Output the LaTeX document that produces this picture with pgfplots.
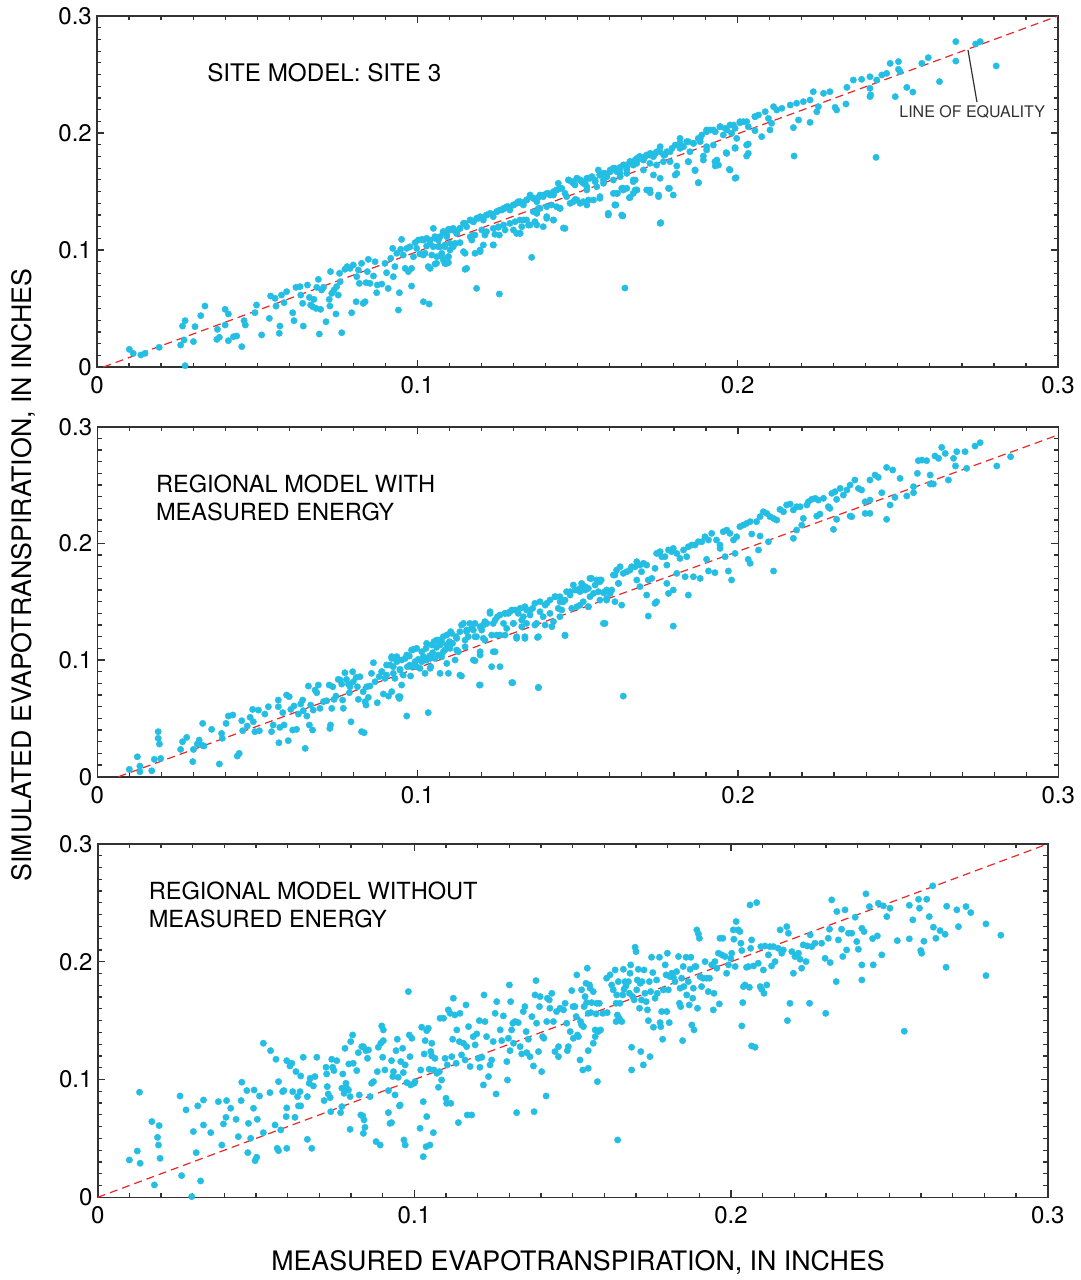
\documentclass[border=0pt]{standalone}
\usepackage{fontspec}
\setmainfont{TeX Gyre Heros}
\usepackage{pgfplots}
\pgfplotsset{compat=1.18}
\definecolor{dotcyan}{RGB}{36,190,228}
\definecolor{eqred}{RGB}{232,40,40}
\definecolor{axisgray}{RGB}{50,50,50}
\pgfplotsset{
  panel/.style={
    scale only axis,
    xmin=0,xmax=0.3,ymin=0,ymax=0.3,
    xtick={0,0.1,0.2,0.3}, xticklabels={0,0.1,0.2,0.3},
    ytick={0,0.1,0.2,0.3}, yticklabels={0,0.1,0.2,0.3},
    minor x tick num=9, minor y tick num=9,
    tick align=inside,
    major tick length=3.6pt, minor tick length=2.2pt,
    axis line style={line width=0.8pt, draw=axisgray},
    every tick/.style={line width=0.6pt, draw=axisgray},
    tick label style={font=\fontsize{12}{12}\selectfont, inner sep=0pt},
    xticklabel shift=4.6pt,
    yticklabel shift=2.4pt,
    clip=false,
  },
  dots/.style={only marks, mark=*, mark size=1.6pt, color=dotcyan, mark options={line width=0.2pt}},
  eq/.style={eqred, dashed, line width=0.6pt, dash pattern=on 4pt off 2.5pt},
}
\tikzset{lbl/.style={anchor=base west, inner sep=0pt, font=\fontsize{11.8}{11.8}\selectfont}}
\begin{document}
\begin{tikzpicture}
\path[use as bounding box] (0,0) rectangle (540.5pt,-640pt);
% ---------------- Panel 1 ----------------
\begin{axis}[panel, width=480.5pt, height=175.5pt, at={(48.5pt,-183.5pt)}, anchor=south west]
\addplot[eq] coordinates {(0.002,0) (0.3,0.3)};
\addplot[dots] coordinates {
(0.0101,0.0151)(0.0113,0.0117)(0.0137,0.0103)(0.0150,0.0117)(0.0194,0.0168)(0.0261,0.0188)(0.0267,0.035)(0.0275,0.0396)(0.0272,0.0231)(0.0301,0.0217)
(0.0306,0.0345)(0.0324,0.0439)(0.0337,0.0521)(0.0374,0.0236)(0.0376,0.0322)(0.0382,0.0254)(0.0400,0.0493)(0.0410,0.0453)(0.04,0.0359)(0.041,0.0225)
(0.0426,0.0259)(0.0436,0.0265)(0.0452,0.0174)(0.0459,0.0396)(0.0463,0.0359)(0.0275,0.0011)(0.0498,0.053)(0.0493,0.0464)(0.0514,0.0274)(0.0538,0.0416)
(0.0542,0.0607)(0.0556,0.0587)(0.0559,0.0521)(0.0571,0.035)(0.0569,0.0288)(0.0576,0.0615)(0.0584,0.055)(0.0592,0.0644)(0.0611,0.0464)(0.0615,0.0396)
(0.0621,0.0681)(0.0634,0.0687)(0.0636,0.0615)(0.0642,0.0544)(0.0644,0.035)(0.0657,0.0701)(0.0663,0.0595)(0.0667,0.053)(0.0673,0.0516)(0.0677,0.0578)
(0.0684,0.0501)(0.0686,0.0681)(0.0691,0.0749)(0.0694,0.0282)(0.0698,0.0493)(0.0701,0.0658)(0.0707,0.0681)(0.0715,0.0387)(0.0725,0.0578)(0.0729,0.0815)
(0.0727,0.0521)(0.0733,0.063)(0.074,0.0658)(0.0746,0.0453)(0.0748,0.0687)(0.0753,0.0615)(0.0759,0.0729)(0.0764,0.0293)(0.0757,0.0801)(0.0774,0.0835)
(0.0781,0.0858)(0.079,0.0843)(0.0795,0.0464)(0.08,0.0872)(0.0809,0.0558)(0.0811,0.0772)(0.0816,0.0829)(0.0819,0.0715)(0.0826,0.0886)(0.0831,0.0544)
(0.0837,0.0558)(0.084,0.0721)(0.0844,0.0815)(0.0847,0.092)(0.0852,0.0715)(0.0863,0.0778)(0.0868,0.09)(0.0873,0.0635)(0.0875,0.0701)(0.0889,0.0709)
(0.0899,0.0886)(0.0904,0.0806)(0.0909,0.0672)(0.0917,0.0929)(0.0923,0.1014)(0.0925,0.0772)(0.093,0.0858)(0.0936,0.0972)(0.0941,0.0487)(0.0944,0.0635)
(0.0948,0.1006)(0.0951,0.1091)(0.0956,0.0957)(0.0962,0.0843)(0.0967,0.1014)(0.0972,0.0815)(0.0977,0.1028)(0.0982,0.0692)(0.0982,0.0843)(0.0988,0.0943)
(0.0993,0.1063)(0.0998,0.1014)(0.1003,0.1085)(0.1008,0.0966)(0.1014,0.1091)(0.1019,0.0558)(0.1024,0.0972)(0.1029,0.1034)(0.1037,0.0538)(0.1034,0.0858)
(0.104,0.1085)(0.1045,0.0957)(0.105,0.1185)(0.1055,0.11)(0.106,0.0886)(0.1066,0.1028)(0.1071,0.1114)(0.1076,0.0949)(0.1081,0.1148)(0.1086,0.1028)
(0.1092,0.0886)(0.1097,0.1177)(0.1102,0.1057)(0.1112,0.1171)(0.1123,0.1142)
(0.1081,0.1157)(0.1092,0.1128)(0.1102,0.1171)(0.1112,0.1185)(0.1123,0.1142)(0.1133,0.1185)(0.1144,0.1228)(0.1154,0.1199)(0.1165,0.1256)(0.1175,0.1242)
(0.1185,0.1271)(0.1196,0.1285)(0.1206,0.1256)(0.1216,0.1299)(0.1227,0.1313)(0.1237,0.1285)(0.1248,0.1328)(0.1258,0.1342)(0.1269,0.1356)(0.1279,0.137)
(0.1289,0.1342)(0.1300,0.1385)(0.1310,0.1399)(0.1321,0.1413)(0.1331,0.1385)(0.1341,0.1427)(0.1352,0.1456)(0.1362,0.1442)(0.1373,0.1413)(0.1383,0.147)
(0.1393,0.1456)(0.1404,0.1484)(0.1414,0.147)(0.1425,0.1499)(0.1435,0.1513)(0.1440,0.157)(0.1451,0.1527)(0.1461,0.1484)(0.1472,0.1598)(0.1482,0.1584)
(0.1492,0.1556)(0.1498,0.1613)(0.1508,0.1598)(0.1518,0.157)(0.1529,0.1541)(0.1534,0.1613)(0.1545,0.1627)(0.1555,0.1584)(0.1565,0.1684)(0.1570,0.1641)
(0.1581,0.1655)(0.1591,0.1627)(0.1602,0.1684)(0.1612,0.1698)(0.1622,0.167)(0.1633,0.1698)(0.1643,0.1726)(0.1654,0.1684)(0.1664,0.1755)(0.1674,0.1726)
(0.1685,0.1741)(0.1693,0.1798)
(0.1076,0.0972)(0.1081,0.0915)(0.1097,0.0943)(0.1087,0.0886)(0.1097,0.0892)(0.1112,0.1028)(0.1133,0.1063)(0.1149,0.0972)(0.1149,0.0835)(0.1170,0.1085)
(0.1175,0.1128)(0.1180,0.0972)(0.1196,0.0986)(0.1206,0.1043)(0.1211,0.1128)(0.1237,0.1043)(0.1242,0.1134)(0.1253,0.1199)(0.1256,0.1128)(0.1274,0.1171)
(0.1300,0.1171)(0.1310,0.1142)(0.1321,0.1142)(0.1326,0.1199)(0.1331,0.1256)(0.1347,0.1213)(0.1357,0.0937)(0.1367,0.1242)(0.1373,0.1313)(0.1383,0.1356)
(0.1393,0.1199)(0.1404,0.1285)(0.1425,0.1256)(0.1435,0.137)(0.1445,0.1356)(0.1456,0.1188)(0.1466,0.1456)(0.1477,0.1399)(0.1487,0.1413)(0.1498,0.1427)
(0.1508,0.1399)(0.1529,0.1385)(0.1550,0.1427)(0.1570,0.1442)(0.1596,0.1313)(0.1617,0.1385)(0.1622,0.1484)(0.1638,0.1527)(0.1641,0.1293)(0.1654,0.1527)
(0.1664,0.145)(0.1674,0.1484)(0.1680,0.1598)(0.1685,0.1513)(0.1185,0.0672)(0.1256,0.0624)(0.1648,0.0675)
(0.157,0.1641)(0.1581,0.1598)(0.1591,0.1627)(0.1602,0.167)(0.1612,0.1698)(0.1622,0.1684)(0.1633,0.1655)(0.1643,0.1726)(0.1654,0.1712)(0.1664,0.1755)
(0.1674,0.1741)(0.1685,0.1783)(0.1695,0.1798)(0.1706,0.1769)(0.1716,0.1812)(0.1727,0.1826)(0.1737,0.1798)(0.1748,0.184)(0.1758,0.1883)(0.1769,0.1812)
(0.1779,0.184)(0.1795,0.1869)(0.1805,0.1897)(0.182,0.1912)(0.1831,0.1883)(0.1846,0.1926)(0.1862,0.1912)(0.1877,0.1954)(0.1888,0.1983)(0.1903,0.2011)
(0.1914,0.2026)(0.193,0.2011)(0.1945,0.2054)(0.1961,0.204)(0.1976,0.2068)(0.1992,0.204)(0.2007,0.2088)(0.2018,0.2097)(0.2033,0.2054)(0.2054,0.214)
(0.2065,0.2154)(0.2086,0.2182)(0.2096,0.2125)(0.2112,0.2225)(0.2122,0.2197)(0.2138,0.2211)(0.2164,0.2239)(0.2184,0.2254)(0.2205,0.2268)(0.2226,0.2282)
(0.2236,0.2353)(0.2268,0.2339)(0.2288,0.2353)(0.2341,0.239)(0.2361,0.2453)(0.2387,0.2459)(0.2413,0.2481)(0.2434,0.2453)(0.245,0.2496)(0.2465,0.251)
(0.2476,0.2595)(0.2502,0.261)(0.2507,0.2524)(0.2575,0.2595)(0.2595,0.2644)(0.2681,0.2781)(0.2743,0.2761)(0.2757,0.2781)(0.2681,0.2615)(0.2502,0.2544)
(0.2413,0.2382)(0.2413,0.2311)(0.2415,0.2325)
(0.157,0.1456)(0.1596,0.1308)(0.162,0.1385)(0.1625,0.1484)(0.1643,0.1527)(0.1641,0.1291)(0.1662,0.1447)(0.1674,0.1584)(0.168,0.1513)(0.1716,0.1513)
(0.1727,0.149)(0.1737,0.1641)(0.1753,0.147)(0.1758,0.1613)(0.176,0.1234)(0.1787,0.1527)(0.1799,0.147)(0.1805,0.1641)(0.181,0.1718)(0.1846,0.1755)
(0.1867,0.1678)(0.1877,0.1575)(0.1893,0.1803)(0.1903,0.1855)(0.193,0.1718)(0.1935,0.1769)(0.1964,0.1832)(0.1974,0.1689)(0.1992,0.1875)(0.1995,0.1618)
(0.2028,0.1803)(0.2033,0.1906)(0.2054,0.202)(0.2075,0.1969)(0.2101,0.2026)(0.2106,0.2083)(0.2174,0.2046)(0.2176,0.1803)(0.219,0.2111)(0.2226,0.2091)
(0.2247,0.2182)(0.2252,0.2225)(0.2304,0.2219)(0.2309,0.2197)(0.2338,0.2248)(0.2432,0.1792)(0.2492,0.2311)(0.2528,0.239)(0.2547,0.235)(0.263,0.2439)
(0.2807,0.2573)
};
\addplot[dots] coordinates {
(0.1019,0.1085)(0.1029,0.11)(0.104,0.1057)(0.1055,0.1114)(0.1066,0.1085)(0.1081,0.1157)(0.1092,0.1114)(0.1107,0.1177)(0.1118,0.1165)(0.1133,0.1185)
(0.1149,0.1228)(0.1165,0.1256)(0.1175,0.1242)(0.1191,0.1271)(0.1206,0.1279)(0.1216,0.1299)(0.1232,0.1308)(0.1248,0.1328)(0.1264,0.1342)(0.1274,0.1356)
(0.1284,0.137)(0.13,0.1385)(0.1315,0.1413)(0.1326,0.1399)(0.1341,0.1427)(0.1352,0.147)(0.1362,0.1442)(0.1378,0.145)(0.1393,0.147)(0.1409,0.1484)
(0.1425,0.147)(0.1435,0.1513)(0.1446,0.1527)(0.1472,0.1598)(0.1487,0.157)(0.1498,0.1613)(0.1513,0.1584)(0.1529,0.1613)
(0.105,0.1028)(0.1071,0.1028)(0.1086,0.1043)(0.1102,0.1)(0.1118,0.1057)(0.1165,0.1114)(0.118,0.1128)(0.1201,0.1171)(0.1216,0.1157)(0.1237,0.1185)
(0.1253,0.1194)(0.1269,0.1214)(0.1289,0.1228)(0.1305,0.1242)(0.132,0.1256)(0.1341,0.1256)(0.1362,0.1328)(0.1378,0.1356)(0.1404,0.137)(0.1419,0.1385)
(0.1446,0.1356)(0.1493,0.1433)(0.1518,0.1413)(0.1534,0.1427)
(0.1019,0.0957)(0.1061,0.0943)(0.1097,0.0943)(0.1113,0.1043)(0.1144,0.0986)(0.1196,0.1)(0.1237,0.1043)(0.132,0.1142)(0.1352,0.1214)(0.1373,0.1214)
(0.1404,0.1271)(0.1425,0.1256)(0.1461,0.1185)(0.1154,0.0843)(0.1055,0.088)(0.1086,0.0886)(0.104,0.0843)
(0.1508,0.1598)(0.1524,0.157)(0.1539,0.1613)(0.1555,0.1598)(0.157,0.1641)(0.1586,0.1655)(0.1602,0.167)(0.1617,0.1698)(0.1633,0.1707)(0.1648,0.1726)
(0.1664,0.1755)(0.168,0.1769)(0.1695,0.1783)(0.1711,0.1798)(0.1726,0.1812)(0.1742,0.1826)(0.1758,0.184)(0.1773,0.1812)(0.1789,0.184)(0.182,0.1954)
(0.1841,0.1926)(0.1862,0.1912)(0.1883,0.1954)(0.1903,0.2026)(0.1924,0.2026)(0.1945,0.2054)(0.1966,0.2026)(0.1987,0.2068)(0.2007,0.2097)(0.2028,0.2097)
(0.2054,0.214)
(0.1529,0.1513)(0.156,0.1541)(0.1581,0.157)(0.1612,0.1598)(0.1633,0.1627)(0.1654,0.1655)(0.1674,0.1598)(0.1706,0.1684)(0.1726,0.1741)(0.1747,0.1726)
(0.1768,0.1755)(0.1789,0.1755)(0.182,0.1869)(0.1851,0.184)(0.1883,0.1926)(0.1903,0.1883)(0.1924,0.1897)(0.1955,0.1983)(0.1981,0.1997)(0.1997,0.1954)
(0.1612,0.1484)(0.1643,0.1513)(0.1685,0.1513)(0.1726,0.1513)(0.1753,0.1456)(0.1784,0.1527)(0.181,0.1655)(0.1846,0.1755)(0.1867,0.1684)(0.1893,0.1769)
(0.1929,0.1755)(0.194,0.1726)(0.1966,0.1826)(0.1992,0.1869)(0.2028,0.1897)(0.2033,0.1826)
(0.1596,0.1299)(0.1617,0.1385)(0.1638,0.1299)(0.1976,0.1684)(0.1992,0.1613)(0.1878,0.1575)(0.1758,0.1228)
};
\node[anchor=base west, inner sep=0pt, font=\fontsize{12.1}{12}\selectfont] at (axis cs:0.0343,0.2436) {SITE MODEL: SITE 3};
\draw[line width=0.6pt, axisgray] (axis cs:0.2719,0.271) -- (axis cs:0.2747,0.2265);
\node[font=\fontsize{8}{8}\selectfont, text=axisgray, inner sep=0pt] at (axis cs:0.2732,0.218) {LINE OF EQUALITY};
\end{axis}
% ---------------- Panel 2 ----------------
\begin{axis}[panel, width=480.5pt, height=175pt, at={(48.65pt,-388.35pt)}, anchor=south west]
\addplot[eq] coordinates {(0.0066,0) (0.3,0.293)};
\addplot[dots] coordinates {
(0.0100,0.0063)(0.0125,0.0171)(0.0133,0.0091)(0.0133,0.0043)(0.017,0.0051)(0.0178,0.0149)(0.019,0.0386)(0.019,0.0329)(0.0194,0.028)(0.0198,0.0157)
(0.026,0.0234)(0.0266,0.03)(0.0279,0.0337)(0.0298,0.0129)(0.03,0.0234)(0.0312,0.028)(0.0318,0.0314)(0.0326,0.0271)(0.0329,0.0457)(0.0333,0.0263)
(0.0357,0.0406)(0.0381,0.0109)(0.0388,0.0371)(0.039,0.0329)(0.0402,0.0457)(0.0409,0.052)(0.0423,0.0529)(0.0437,0.0177)(0.0443,0.02)(0.0451,0.048)
(0.0454,0.0394)(0.0468,0.0434)(0.0477,0.0509)(0.0485,0.0577)(0.0487,0.0471)(0.0492,0.0386)(0.0503,0.0571)(0.0506,0.0394)(0.0523,0.0537)(0.0534,0.06)
(0.0544,0.0386)(0.0549,0.0443)(0.0565,0.0657)(0.0567,0.0291)(0.0565,0.06)(0.057,0.0423)(0.0579,0.0549)(0.0583,0.0443)(0.0591,0.07)(0.0596,0.0309)
(0.0599,0.0686)(0.0604,0.0577)(0.061,0.04)(0.0614,0.0606)(0.0622,0.0406)(0.0628,0.0537)(0.0635,0.0623)(0.0641,0.0657)(0.0643,0.0566)(0.0649,0.0243)
(0.0654,0.052)(0.0659,0.0777)(0.0662,0.0443)(0.0666,0.0614)(0.0672,0.04)(0.0674,0.0571)(0.068,0.0743)(0.0685,0.072)(0.069,0.0786)(0.0695,0.0586)
(0.0706,0.0643)(0.0716,0.0651)(0.0724,0.0786)(0.0726,0.0414)(0.0728,0.0443)(0.0732,0.0586)(0.0735,0.0771)(0.0739,0.0663)(0.0745,0.0691)(0.0752,0.0834)
(0.0758,0.0829)(0.0763,0.0794)(0.0766,0.0657)(0.0768,0.0586)(0.0773,0.0891)(0.0778,0.0834)(0.0784,0.0794)(0.0787,0.072)(0.0789,0.0771)(0.0792,0.0471)
(0.0797,0.09)(0.0799,0.0814)(0.0808,0.0851)(0.0812,0.0771)(0.0815,0.0663)(0.082,0.0857)(0.0825,0.0386)(0.0833,0.0377)(0.083,0.0729)(0.0836,0.0643)
(0.0839,0.0614)(0.0841,0.0771)(0.0846,0.068)(0.0851,0.0777)(0.0856,0.0886)(0.0862,0.0977)(0.0867,0.0814)(0.0874,0.0634)(0.088,0.0857)(0.0888,0.09)
(0.0893,0.0709)(0.0898,0.0843)(0.0909,0.0691)(0.0914,0.0957)(0.0919,0.1029)(0.0924,0.0886)(0.0929,0.0843)(0.0935,0.0986)(0.094,0.0686)(0.0943,0.0671)
(0.0945,0.092)(0.095,0.0786)(0.0955,0.0871)(0.0961,0.1014)(0.0966,0.052)(0.0968,0.0943)(0.0974,0.1034)(0.0978,0.0863)(0.0981,0.0943)(0.0987,0.1091)
(0.0992,0.0986)(0.0997,0.0943)(0.1002,0.1006)(0.1007,0.0929)(0.1013,0.0986)(0.1018,0.1029)(0.1023,0.0886)(0.1026,0.11)(0.1028,0.1)(0.1033,0.0549)
(0.1037,0.1034)(0.1041,0.0943)(0.1047,0.1063)(0.1051,0.1157)(0.1054,0.1014)(0.1059,0.1109)(0.1065,0.1171)(0.107,0.1129)(0.1075,0.1029)(0.108,0.12)
(0.1085,0.1086)(0.1091,0.1129)(0.1096,0.0886)(0.1099,0.1157)(0.1103,0.1243)(0.1109,0.1143)(0.1117,0.1)(0.112,0.12)(0.1127,0.1071)(0.1132,0.1243)
(0.1137,0.0863)(0.1143,0.1314)(0.1148,0.1171)(0.1153,0.1257)(0.1158,0.12)(0.1163,0.1314)(0.1174,0.1257)(0.1179,0.0994)(0.1184,0.12)(0.1193,0.0786)
(0.1195,0.1043)(0.12,0.1257)(0.1205,0.13)(0.121,0.1171)(0.1216,0.1314)(0.1226,0.1414)(0.1231,0.0943)(0.1236,0.1314)(0.1242,0.1071)(0.1249,0.1371)
(0.1257,0.1214)(0.1268,0.1314)(0.1273,0.14)(0.1278,0.1271)(0.1283,0.14)(0.1294,0.1429)(0.1297,0.0806)(0.1299,0.1314)(0.1309,0.1186)(0.1314,0.14)
(0.1325,0.1343)(0.133,0.1371)(0.1335,0.1186)(0.134,0.1429)(0.1351,0.1386)(0.1359,0.1443)(0.1366,0.13)(0.1374,0.1194)(0.1377,0.0766)(0.1382,0.1414)
(0.1392,0.1371)(0.1403,0.1486)(0.1413,0.14)(0.1429,0.1543)(0.1439,0.1443)
(0.1444,0.1543)(0.1455,0.15)(0.1465,0.1586)(0.1476,0.1557)(0.1486,0.1643)(0.1497,0.16)(0.1507,0.1586)(0.1512,0.1657)(0.1523,0.16)(0.1533,0.1614)
(0.1538,0.1543)(0.1543,0.17)(0.1549,0.1571)(0.1559,0.1686)(0.1564,0.1586)(0.1569,0.1671)(0.1573,0.1686)(0.158,0.1577)(0.159,0.16)(0.1606,0.16)
(0.1611,0.1729)(0.1621,0.1771)(0.1627,0.1657)(0.1632,0.18)(0.1642,0.1743)(0.1653,0.1757)(0.1663,0.1771)(0.1668,0.18)(0.1679,0.18)(0.1684,0.1843)
(0.1694,0.1814)(0.1699,0.1757)(0.1705,0.1829)(0.1715,0.1814)(0.172,0.1686)(0.1731,0.17)(0.1741,0.1786)(0.1746,0.1914)(0.1757,0.1929)(0.1762,0.1886)
(0.1772,0.1886)(0.1778,0.1814)(0.1783,0.1943)(0.1793,0.1929)(0.1798,0.1957)(0.1809,0.1914)(0.1819,0.1871)(0.183,0.1943)(0.184,0.1886)(0.1845,0.1971)
(0.1856,0.1986)(0.1866,0.1986)(0.1876,0.2014)(0.1887,0.2014)(0.1897,0.2057)(0.1908,0.2029)(0.1918,0.2086)(0.1933,0.2029)(0.1944,0.1986)(0.1954,0.21)
(0.1965,0.2114)(0.1975,0.2086)(0.1986,0.2029)(0.1996,0.2057)(0.2006,0.2143)(0.2017,0.2157)(0.2027,0.2171)(0.2038,0.2186)(0.2043,0.208)(0.2058,0.2186)
(0.2069,0.2229)(0.2079,0.2271)(0.209,0.2257)(0.21,0.2229)(0.2111,0.2214)(0.2121,0.22)(0.2131,0.2291)(0.2142,0.2271)(0.2152,0.2329)(0.2163,0.2337)
(0.2173,0.2286)(0.2183,0.2314)(0.2194,0.2314)(0.2204,0.2214)(0.2215,0.2329)(0.222,0.2357)(0.223,0.2377)(0.2241,0.2386)(0.2251,0.2371)(0.2267,0.2386)
(0.2287,0.23)(0.2293,0.2429)(0.2303,0.2443)(0.2308,0.2377)(0.2319,0.2471)(0.2329,0.2414)(0.234,0.2457)(0.235,0.25)(0.2365,0.2543)(0.2376,0.2471)
(0.2386,0.2457)(0.2397,0.2357)(0.2412,0.2371)(0.2412,0.2543)(0.2428,0.2586)(0.2438,0.2566)(0.2449,0.2434)(0.2464,0.2651)(0.2483,0.2629)(0.2506,0.2557)
(0.2527,0.2406)(0.2548,0.2434)(0.256,0.26)(0.2563,0.2709)(0.2574,0.2714)(0.2589,0.2709)(0.26,0.2586)(0.261,0.2509)(0.2615,0.2749)(0.2626,0.2729)
(0.2636,0.2823)(0.2647,0.2771)(0.2657,0.2543)(0.2673,0.2729)(0.2679,0.2663)(0.2683,0.2786)(0.2709,0.2786)(0.2714,0.2643)(0.274,0.2834)(0.2756,0.2863)
(0.2808,0.2663)(0.2851,0.2743)
(0.1444,0.1371)(0.146,0.1209)(0.1497,0.1457)(0.1517,0.15)(0.1533,0.1457)(0.158,0.1314)(0.159,0.1514)(0.1616,0.15)(0.1637,0.1471)(0.1684,0.1686)
(0.1694,0.1629)(0.1715,0.1557)(0.172,0.1377)(0.1741,0.1486)(0.1746,0.15)(0.1778,0.1657)(0.1783,0.1571)(0.1798,0.16)(0.1798,0.1291)(0.1809,0.1743)
(0.1835,0.1714)(0.1845,0.1557)(0.1861,0.1714)(0.1882,0.17)(0.1902,0.1863)(0.1908,0.1763)(0.1928,0.1749)(0.1944,0.1957)(0.196,0.1886)(0.197,0.1763)
(0.198,0.1686)(0.1991,0.1914)(0.2032,0.1863)(0.2038,0.1829)(0.2064,0.1943)(0.2069,0.2063)(0.2095,0.2014)(0.2111,0.1763)(0.2173,0.2043)(0.2183,0.2114)
(0.2199,0.2157)(0.2246,0.2234)(0.2256,0.2251)(0.2282,0.2314)(0.2298,0.212)(0.2308,0.2206)(0.235,0.2234)(0.2355,0.2229)(0.2397,0.2257)(0.2412,0.2257)
(0.2464,0.2206)(0.2475,0.2329)(0.249,0.2394)(0.2548,0.2486)(0.26,0.2509)(0.1642,0.0691)
};
\addplot[dots] coordinates {
(0.0888,0.09)(0.0903,0.0957)(0.0919,0.1014)(0.0935,0.1029)(0.095,0.1)(0.0966,0.1043)(0.0981,0.1086)(0.0997,0.11)(0.1013,0.1071)(0.1028,0.1143)
(0.1044,0.1129)(0.1059,0.1171)(0.1075,0.1157)(0.1091,0.1214)(0.1106,0.1229)(0.1122,0.1186)(0.1137,0.13)(0.1153,0.1243)(0.1169,0.1271)(0.1179,0.1314)
(0.1195,0.1286)(0.121,0.1329)(0.1226,0.14)(0.1242,0.1343)(0.1257,0.1386)(0.1273,0.14)(0.1288,0.1414)(0.1304,0.1429)(0.132,0.1443)(0.1335,0.1457)
(0.1351,0.1429)(0.1366,0.1486)(0.1382,0.15)(0.1398,0.1471)(0.1413,0.1514)(0.1429,0.1543)(0.1445,0.15)(0.146,0.1514)(0.1476,0.1586)(0.1491,0.16)
(0.1507,0.1614)(0.1523,0.1629)(0.1538,0.17)(0.1554,0.1643)(0.1569,0.1686)(0.1585,0.1586)(0.1601,0.1571)(0.1616,0.1729)(0.1627,0.1657)
(0.0903,0.0871)(0.0924,0.0943)(0.0945,0.0914)(0.0976,0.0957)(0.0997,0.0943)(0.1023,0.1)(0.1039,0.1014)(0.1065,0.1043)(0.108,0.1071)(0.1101,0.11)
(0.1122,0.1086)(0.1148,0.1114)(0.1179,0.12)(0.1205,0.1186)(0.1231,0.1214)(0.1247,0.1214)(0.1273,0.1214)(0.1299,0.1314)(0.1325,0.1286)(0.134,0.1314)
(0.1371,0.1314)(0.1398,0.13)(0.1424,0.1329)(0.145,0.1429)(0.1481,0.1443)(0.1507,0.1471)(0.1533,0.1457)(0.1569,0.1514)(0.159,0.1529)
(0.1039,0.0929)(0.107,0.0886)(0.1091,0.0971)(0.1132,0.0871)(0.1174,0.1)(0.1195,0.1071)(0.1236,0.1071)(0.1257,0.0943)(0.1309,0.12)(0.1335,0.12)
(0.1377,0.12)(0.1419,0.1286)(0.146,0.1214)(0.1585,0.1314)(0.1195,0.0786)(0.1294,0.0806)(0.1377,0.0763)(0.0945,0.0686)(0.0919,0.0729)
};
\node[lbl] at (axis cs:0.0182,0.2434) {REGIONAL MODEL WITH};
\node[lbl] at (axis cs:0.0182,0.2194) {MEASURED ENERGY};
\end{axis}
% ---------------- Panel 3 ----------------
\begin{axis}[panel, width=475pt, height=176.7pt, at={(48.85pt,-598.65pt)}, anchor=south west]
\addplot[eq] coordinates {(0,0) (0.3,0.3)};
\addplot[dots] coordinates {
(0.01,0.0317)(0.0125,0.0393)(0.0134,0.0289)(0.0132,0.0892)(0.0171,0.0643)(0.0179,0.0105)(0.0194,0.0609)(0.0189,0.0509)(0.0192,0.0444)(0.0197,0.0331)
(0.026,0.086)(0.0265,0.0184)(0.0279,0.0742)(0.0302,0.0558)(0.0297,0.0006)(0.0311,0.0379)(0.0316,0.0776)(0.0325,0.0139)(0.0334,0.0614)(0.0334,0.0826)
(0.0357,0.0549)(0.0381,0.0812)(0.0392,0.0444)(0.0397,0.0623)(0.0405,0.0679)(0.0407,0.0821)(0.042,0.0756)(0.0437,0.0662)(0.0444,0.0515)(0.0455,0.0977)
(0.0453,0.0821)(0.0471,0.0906)(0.0474,0.0379)(0.0476,0.0628)(0.0483,0.0501)(0.0492,0.0756)(0.0494,0.0911)(0.0497,0.0311)(0.0502,0.034)(0.0504,0.0662)
(0.0511,0.086)(0.0523,0.0549)(0.0523,0.1308)(0.0546,0.1245)(0.0544,0.0889)(0.056,0.0614)(0.0563,0.1172)(0.0567,0.0416)(0.0571,0.0982)(0.0571,0.0396)
(0.0578,0.0572)(0.0584,0.0897)(0.0588,0.0906)(0.0595,0.0685)(0.0597,0.0759)(0.0597,0.0416)(0.0597,0.116)(0.0607,0.1115)(0.0613,0.1138)(0.0616,0.0897)
(0.0623,0.0679)(0.0626,0.1067)(0.0631,0.0855)(0.0634,0.0776)(0.0639,0.0897)(0.0641,0.0776)(0.0641,0.103)(0.0649,0.1189)(0.0662,0.0492)(0.0662,0.0855)
(0.0668,0.0968)(0.0671,0.101)(0.0676,0.0416)(0.0681,0.0945)(0.0686,0.1025)(0.0692,0.1189)(0.0715,0.0821)(0.0721,0.1104)(0.0723,0.1047)(0.0725,0.094)
(0.0728,0.0877)(0.0734,0.0846)(0.0736,0.0727)(0.0739,0.1172)(0.0742,0.1104)(0.0746,0.1076)(0.0755,0.116)(0.0767,0.0719)(0.0771,0.077)(0.0771,0.0926)
(0.0774,0.1047)(0.0778,0.0883)(0.0781,0.1265)(0.0784,0.0968)(0.0786,0.0926)(0.0792,0.0911)(0.0793,0.1132)(0.0797,0.0577)(0.0797,0.0855)(0.0799,0.1322)
(0.0805,0.1378)(0.0807,0.1138)(0.0818,0.1076)(0.0823,0.1228)(0.0826,0.0869)(0.0831,0.0699)(0.0834,0.1279)(0.0837,0.0691)(0.0839,0.1279)(0.0839,0.0543)
(0.0841,0.0657)(0.0844,0.0594)(0.0847,0.1245)(0.0852,0.118)(0.0855,0.1251)(0.086,0.0855)(0.0865,0.0968)(0.0871,0.0982)(0.0879,0.0473)(0.0883,0.1067)
(0.0886,0.1274)(0.0892,0.0444)(0.0894,0.1308)(0.0897,0.1455)(0.09,0.1189)(0.0902,0.133)(0.0902,0.1421)(0.0907,0.1081)
(0.0918,0.0906)(0.0918,0.0719)(0.0923,0.0628)(0.0928,0.0634)(0.0928,0.116)(0.0932,0.1025)(0.0934,0.1067)(0.0939,0.0869)(0.0942,0.1245)(0.0946,0.1342)
(0.0949,0.1019)(0.0953,0.0776)(0.0955,0.0784)(0.0957,0.1152)(0.0963,0.1265)(0.0965,0.1059)(0.0967,0.0487)(0.0971,0.0444)(0.0971,0.1124)(0.0976,0.0974)
(0.0981,0.1746)(0.0984,0.1378)(0.0986,0.1194)(0.0988,0.0954)(0.0992,0.135)(0.0999,0.0968)(0.1002,0.0982)(0.1018,0.0586)(0.102,0.1081)(0.1023,0.1444)
(0.1028,0.0345)(0.1028,0.0812)(0.1031,0.1217)(0.1034,0.133)(0.1037,0.043)(0.1039,0.0685)(0.1039,0.1415)(0.1044,0.1435)(0.1047,0.1087)(0.1049,0.0444)
(0.1052,0.1237)(0.1055,0.12)(0.1055,0.1308)(0.106,0.0549)(0.1062,0.1081)(0.1065,0.118)(0.1071,0.1053)(0.1076,0.0934)(0.1079,0.1067)(0.1081,0.152)
(0.1086,0.0996)(0.1092,0.152)(0.1097,0.118)(0.11,0.0841)(0.1102,0.0798)(0.1104,0.1124)(0.1107,0.1591)(0.1113,0.1562)(0.1115,0.0798)(0.1118,0.1194)
(0.1121,0.1342)(0.1123,0.169)(0.1128,0.1548)(0.1132,0.1138)(0.1134,0.1421)(0.1139,0.0634)(0.1142,0.1322)(0.1144,0.1562)(0.1149,0.1209)(0.1155,0.1308)
(0.116,0.1166)(0.1163,0.1633)(0.1165,0.1279)(0.1167,0.0699)(0.1171,0.1449)(0.1176,0.111)(0.1181,0.0699)(0.1186,0.1364)(0.1192,0.1294)(0.1197,0.1387)
(0.1202,0.118)(0.1205,0.15)(0.1207,0.1104)(0.1213,0.1189)(0.1218,0.0954)(0.122,0.1718)(0.1223,0.1492)(0.1228,0.1364)(0.1234,0.1025)(0.1239,0.1124)
(0.1244,0.1166)(0.1249,0.1322)(0.1255,0.1562)(0.1258,0.0877)(0.126,0.1661)(0.1271,0.1421)(0.1276,0.133)(0.1281,0.154)(0.1292,0.1152)(0.1294,0.0996)
(0.1297,0.135)(0.13,0.1803)(0.1302,0.1245)(0.1304,0.1661)(0.1307,0.1421)(0.1311,0.1478)(0.1313,0.1308)(0.1318,0.1492)(0.1323,0.0719)(0.1328,0.1483)
(0.1334,0.1279)(0.1339,0.1217)(0.1344,0.1577)(0.1349,0.1619)(0.1353,0.1407)(0.1355,0.1228)(0.136,0.1342)(0.1365,0.1194)(0.1371,0.1534)(0.1376,0.1115)
(0.1378,0.0727)(0.1381,0.1718)(0.1384,0.184)(0.1386,0.1478)(0.1392,0.1237)(0.1395,0.1619)(0.1397,0.1704)(0.1402,0.1067)(0.1405,0.1364)(0.1409,0.135)
(0.1416,0.086)(0.1418,0.1492)(0.142,0.169)(0.1426,0.1676)(0.1428,0.1605)(0.1434,0.1732)(0.1439,0.1492)(0.1444,0.1237)(0.1449,0.1577)(0.1455,0.1194)
(0.1455,0.1279)
(0.146,0.1605)(0.1471,0.1591)(0.1476,0.1647)(0.1481,0.1478)(0.1483,0.1245)(0.1486,0.1279)(0.1492,0.1407)(0.1497,0.1755)(0.1501,0.1619)(0.1502,0.135)
(0.1507,0.1619)(0.1511,0.1534)(0.1513,0.1888)(0.1515,0.1378)(0.1518,0.1364)(0.1523,0.1166)(0.1525,0.1492)(0.1528,0.1463)(0.1528,0.1761)(0.1532,0.1081)
(0.1534,0.1449)(0.1536,0.1619)(0.1539,0.1704)(0.1542,0.1817)(0.1544,0.1653)(0.1546,0.1945)(0.1549,0.1562)(0.1549,0.1245)(0.1549,0.1095)(0.1553,0.1803)
(0.1555,0.1775)(0.1557,0.1568)(0.156,0.1653)(0.1565,0.1746)(0.1565,0.1308)(0.1571,0.1421)(0.1571,0.1364)(0.1574,0.1557)(0.1576,0.1647)(0.1578,0.0982)
(0.1581,0.1407)(0.1584,0.1647)(0.1588,0.1421)(0.1595,0.1562)(0.1607,0.186)(0.1609,0.1568)(0.1618,0.1888)(0.1623,0.1803)(0.1628,0.1761)(0.1634,0.193)
(0.1637,0.1647)(0.1637,0.1492)(0.1639,0.1718)(0.1641,0.1548)(0.1644,0.1831)(0.1647,0.152)(0.1649,0.1647)(0.1655,0.1492)(0.1658,0.1718)(0.166,0.1936)
(0.1662,0.1766)(0.1665,0.1831)(0.1668,0.1794)(0.1676,0.1831)(0.1679,0.1732)(0.1681,0.1902)(0.1683,0.1973)(0.1686,0.1081)(0.1686,0.1274)(0.1689,0.1704)
(0.1694,0.1676)(0.1697,0.2123)(0.17,0.2086)(0.1702,0.1761)(0.1704,0.1845)(0.1707,0.1936)(0.1711,0.1605)(0.1713,0.1817)(0.1715,0.1237)(0.1717,0.1676)
(0.1719,0.1831)(0.1723,0.1124)(0.1725,0.193)(0.1728,0.1732)(0.1732,0.1661)(0.1736,0.1591)(0.1739,0.15)(0.1742,0.1831)(0.1744,0.1194)(0.1746,0.1746)
(0.1749,0.2038)(0.1753,0.1908)(0.1755,0.1444)(0.176,0.169)(0.1765,0.1845)(0.1767,0.1732)(0.1774,0.2038)(0.1776,0.1483)(0.1778,0.1449)(0.1781,0.1577)
(0.1784,0.1342)(0.1786,0.1761)(0.1792,0.1973)(0.1795,0.1888)(0.1797,0.1577)(0.1799,0.2072)(0.1802,0.1761)(0.1805,0.1483)(0.1807,0.1874)(0.1813,0.1902)
(0.1818,0.1868)(0.1823,0.1831)(0.1828,0.1916)(0.1834,0.2044)(0.1837,0.1647)(0.1839,0.1775)(0.1841,0.1619)(0.1844,0.186)(0.1847,0.133)(0.1849,0.1959)
(0.1851,0.1789)(0.1858,0.2038)(0.186,0.1718)(0.1865,0.1831)(0.1868,0.1633)(0.1871,0.1936)(0.1873,0.2038)(0.1876,0.1463)(0.1879,0.169)(0.1881,0.1775)
(0.1883,0.1421)(0.1886,0.1959)(0.1889,0.1959)(0.1892,0.227)(0.1894,0.1605)(0.1897,0.2236)(0.19,0.2199)(0.1902,0.1874)(0.1907,0.1789)(0.1911,0.186)
(0.1918,0.2001)(0.1923,0.186)(0.1928,0.1746)(0.1932,0.186)(0.1939,0.1973)(0.1944,0.1591)(0.1946,0.1732)(0.1949,0.2001)(0.1955,0.1945)(0.196,0.2072)
(0.1963,0.1642)(0.1965,0.2199)(0.1971,0.2058)(0.1974,0.2199)(0.1981,0.2044)(0.1986,0.1902)(0.1992,0.1973)(0.1999,0.2029)(0.2002,0.2072)(0.2007,0.227)
(0.2009,0.2191)(0.2013,0.1959)(0.2016,0.2341)(0.2023,0.227)(0.2028,0.2256)(0.2031,0.2157)(0.2034,0.1455)(0.2034,0.2095)(0.2037,0.1653)(0.2039,0.1789)
(0.2044,0.1803)(0.2049,0.1953)(0.2055,0.1959)(0.2058,0.1783)(0.206,0.2482)(0.2062,0.2114)(0.2065,0.1285)(0.2065,0.2185)(0.2071,0.1964)(0.2076,0.1274)
(0.2081,0.2502)(0.2086,0.1987)(0.2092,0.1789)(0.2094,0.2128)(0.2097,0.1766)(0.2102,0.193)(0.2104,0.1732)(0.2107,0.2134)(0.2113,0.1803)(0.2118,0.2058)
(0.2123,0.2128)(0.2128,0.1964)(0.2134,0.2128)(0.2139,0.2001)(0.2149,0.2114)(0.2155,0.227)(0.216,0.2072)(0.2165,0.21)(0.2176,0.2298)(0.2178,0.15)
(0.2181,0.2242)(0.2186,0.1647)(0.2192,0.2086)(0.2197,0.1902)(0.2202,0.2044)(0.2207,0.2058)(0.2213,0.2072)(0.2218,0.2021)(0.2223,0.1945)(0.2228,0.2143)
(0.2237,0.2001)(0.2241,0.2134)(0.2248,0.1647)(0.225,0.2228)(0.2255,0.2128)(0.2265,0.2157)(0.2286,0.2157)(0.2297,0.2029)(0.2299,0.1562)(0.2307,0.2199)
(0.2311,0.2276)(0.2313,0.1993)(0.2318,0.2525)(0.2332,0.1831)(0.2334,0.2426)(0.2339,0.2185)(0.2349,0.2276)(0.2353,0.2044)(0.236,0.244)(0.2365,0.21)
(0.2371,0.2242)(0.2381,0.2242)(0.2392,0.2378)(0.2397,0.2171)(0.2402,0.2106)(0.2413,0.2284)(0.2413,0.1973)(0.2413,0.1845)(0.242,0.2256)(0.2426,0.2576)
(0.2437,0.2468)(0.2447,0.2196)(0.2449,0.1973)(0.2462,0.2219)(0.2465,0.2496)(0.2476,0.2058)(0.2481,0.2474)(0.2492,0.2383)(0.2502,0.2454)(0.2525,0.2179)
(0.2547,0.141)(0.2563,0.2479)(0.2563,0.2194)(0.2574,0.2355)(0.2592,0.253)(0.2595,0.2454)(0.2599,0.2095)(0.2602,0.2072)(0.2609,0.2174)(0.2618,0.253)
(0.2626,0.2383)(0.2637,0.2644)(0.2639,0.2293)(0.2647,0.2199)(0.266,0.2264)(0.2676,0.2233)(0.2679,0.1953)(0.2681,0.2471)(0.2713,0.244)(0.2718,0.2298)
(0.2742,0.2468)(0.2757,0.2417)(0.2805,0.2321)(0.2805,0.1882)(0.2852,0.2225)(0.1642,0.0487)
};
\node[lbl] at (axis cs:0.016,0.2524) {REGIONAL MODEL WITHOUT};
\node[lbl] at (axis cs:0.016,0.2289) {MEASURED ENERGY};
\end{axis}
% axis labels
\node[rotate=90, font=\fontsize{13.4}{13.4}\selectfont] at (11.5pt,-287.5pt) {SIMULATED EVAPOTRANSPIRATION, IN INCHES};
\node[font=\fontsize{13.4}{13.4}\selectfont] at (289pt,-631pt) {MEASURED EVAPOTRANSPIRATION, IN INCHES};
\end{tikzpicture}
\end{document}
